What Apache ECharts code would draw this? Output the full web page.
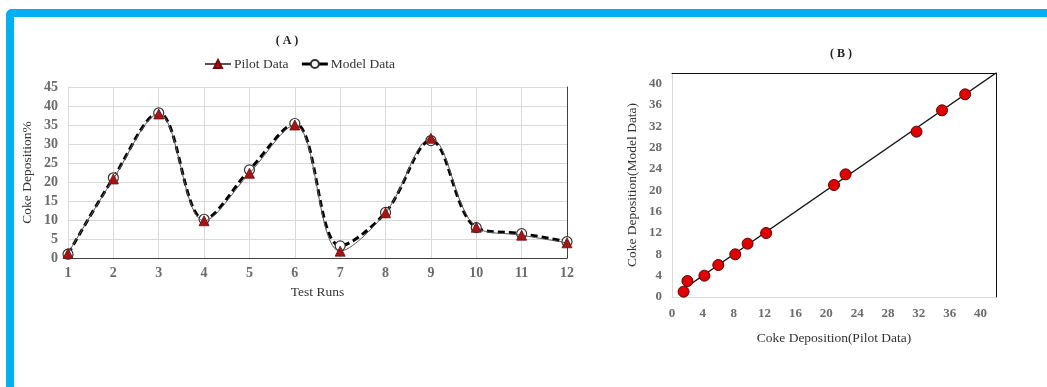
<!DOCTYPE html>
<html>
<head>
<meta charset="utf-8">
<script src="https://cdn.jsdelivr.net/npm/echarts@6/dist/echarts.min.js"></script>
<style>
  html, body { margin: 0; padding: 0; background: #ffffff; }
  #wrap { position: relative; width: 1047px; height: 387px; overflow: hidden; }
  #frame {
    position: absolute; left: 6px; top: 9px; width: 1100px; height: 420px;
    border-top: 8px solid #00B0F0; border-left: 8px solid #00B0F0;
    border-top-left-radius: 6px; box-sizing: border-box;
  }
  #chart { position: absolute; left: 0; top: 0; width: 1047px; height: 387px; }
</style>
</head>
<body>
<div id="wrap">
  <div id="frame"></div>
  <div id="chart"></div>
</div>
<script>
// Panel A: coke deposition per test run
const runs = ['1', '2', '3', '4', '5', '6', '7', '8', '9', '10', '11', '12'];
const pilotData = [1.2, 20.8, 37.9, 9.8, 22.3, 35.0, 1.8, 11.9, 31.5, 8.1, 6.0, 4.0];
const modelData = [1.0, 21.1, 38.2, 10.2, 23.2, 35.4, 3.2, 12.0, 30.9, 8.0, 6.4, 4.3];

// Panel B: model vs pilot parity plot
const parityPilot = [1.5, 2.0, 4.2, 6.0, 8.2, 9.8, 12.2, 21.0, 22.5, 31.7, 35.0, 38.0];
const parityModel = [1.0, 3.0, 4.0, 6.0, 8.0, 10.0, 12.0, 21.0, 23.0, 31.0, 35.0, 38.0];
const parityLine = [[1.5, 1.5], [42, 42]];
const parityTicks = { min: 0, max: 42, interval: 4 };

const serif = 'Liberation Serif, Times New Roman, serif';
const tickLabel = { fontFamily: serif, fontWeight: 'bold', color: '#6b6b6b', fontSize: 14 };
const nameText = { fontFamily: serif, color: '#333333', fontSize: 13.5 };
const lightLine = { color: '#d9d9d9', width: 1 };
const darkLine = { color: '#404040', width: 1 };

const chart = echarts.init(document.getElementById('chart'), null, { renderer: 'canvas' });

chart.setOption({
  animation: false,
  title: [
    { text: '( A )', left: 282, top: 30, textAlign: 'center',
      textStyle: { fontFamily: serif, fontWeight: 'bold', fontSize: 12, color: '#222' } },
    { text: '( B )', left: 836, top: 43, textAlign: 'center',
      textStyle: { fontFamily: serif, fontWeight: 'bold', fontSize: 12, color: '#222' } }
  ],
  legend: {
    left: 199, top: 52,
    itemWidth: 26, itemHeight: 10, itemGap: 12,
    data: [
      { name: 'Pilot Data' },
      { name: 'Model Data', lineStyle: { type: 'solid', width: 3 } }
    ],
    textStyle: { fontFamily: serif, fontSize: 13.5, color: '#333', padding: [0, 0, 0, -2] }
  },
  grid: [
    { left: 68, right: 480, top: 87, bottom: 129 },
    { left: 672, right: 51, top: 73, bottom: 90 }
  ],
  xAxis: [
    { gridIndex: 0, type: 'category', data: runs, boundaryGap: false,
      name: 'Test Runs', nameLocation: 'middle', nameGap: 27, nameTextStyle: nameText,
      axisLine: { lineStyle: lightLine }, axisTick: { show: false },
      axisLabel: Object.assign({ margin: 8 }, tickLabel),
      splitLine: { show: true, lineStyle: lightLine } },
    { gridIndex: 0, type: 'category', data: runs, boundaryGap: false, position: 'top',
      axisLine: { lineStyle: darkLine }, axisTick: { show: false },
      axisLabel: { show: false }, splitLine: { show: false } },
    { gridIndex: 1, type: 'value', min: parityTicks.min, max: parityTicks.max, interval: parityTicks.interval,
      name: 'Coke Deposition(Pilot Data)', nameLocation: 'middle', nameGap: 34, nameTextStyle: nameText,
      axisLine: { lineStyle: lightLine }, axisTick: { show: false },
      axisLabel: Object.assign({ margin: 10, showMaxLabel: false }, tickLabel, { fontSize: 13 }),
      splitLine: { show: false } },
    { gridIndex: 1, type: 'value', min: parityTicks.min, max: parityTicks.max, position: 'top',
      axisLine: { onZero: false, lineStyle: { color: '#111', width: 1 } }, axisTick: { show: false },
      axisLabel: { show: false }, splitLine: { show: false } }
  ],
  yAxis: [
    { gridIndex: 0, type: 'value', min: 0, max: 45, interval: 5,
      name: 'Coke Deposition%', nameLocation: 'middle', nameGap: 34, nameTextStyle: nameText,
      axisLine: { show: true, lineStyle: lightLine }, axisTick: { show: false },
      axisLabel: Object.assign({ margin: 10 }, tickLabel),
      splitLine: { show: true, lineStyle: lightLine } },
    { gridIndex: 0, type: 'value', min: 0, max: 45, position: 'right',
      axisLine: { show: true, lineStyle: darkLine }, axisTick: { show: false },
      axisLabel: { show: false }, splitLine: { show: false } },
    { gridIndex: 1, type: 'value', min: parityTicks.min, max: parityTicks.max, interval: parityTicks.interval,
      name: 'Coke Deposition(Model Data)', nameLocation: 'middle', nameGap: 33, nameTextStyle: nameText,
      axisLine: { show: true, lineStyle: lightLine }, axisTick: { show: false },
      axisLabel: Object.assign({ margin: 10, showMaxLabel: false }, tickLabel, { fontSize: 13 }),
      splitLine: { show: false } },
    { gridIndex: 1, type: 'value', min: parityTicks.min, max: parityTicks.max, position: 'right',
      axisLine: { show: true, onZero: false, lineStyle: { color: '#111', width: 1 } }, axisTick: { show: false },
      axisLabel: { show: false }, splitLine: { show: false } }
  ],
  series: [
    { name: 'Model Data', type: 'line', xAxisIndex: 0, yAxisIndex: 0,
      data: modelData, smooth: 0.36, z: 2,
      symbol: 'circle', symbolSize: 10,
      lineStyle: { color: '#000', width: 3, type: [7, 4] },
      itemStyle: { color: '#ffffff', borderColor: '#333', borderWidth: 1.2 } },
    { name: 'Pilot Data', type: 'line', xAxisIndex: 0, yAxisIndex: 0,
      data: pilotData, smooth: 0.36, z: 3,
      symbol: 'triangle', symbolSize: 10,
      lineStyle: { color: '#555', width: 1 },
      itemStyle: { color: '#A51515', borderColor: '#6e0d0d', borderWidth: 0.8 } },
    { name: 'Parity', type: 'line', xAxisIndex: 2, yAxisIndex: 2,
      data: parityLine, symbol: 'none', z: 2,
      lineStyle: { color: '#111', width: 1.5 } },
    { name: 'Parity points', type: 'scatter', xAxisIndex: 2, yAxisIndex: 2,
      data: parityPilot.map((p, i) => [p, parityModel[i]]), z: 3,
      symbol: 'circle', symbolSize: 11,
      itemStyle: { color: '#E00000', borderColor: '#5a0000', borderWidth: 1, opacity: 1 } }
  ]
});
</script>
</body>
</html>
